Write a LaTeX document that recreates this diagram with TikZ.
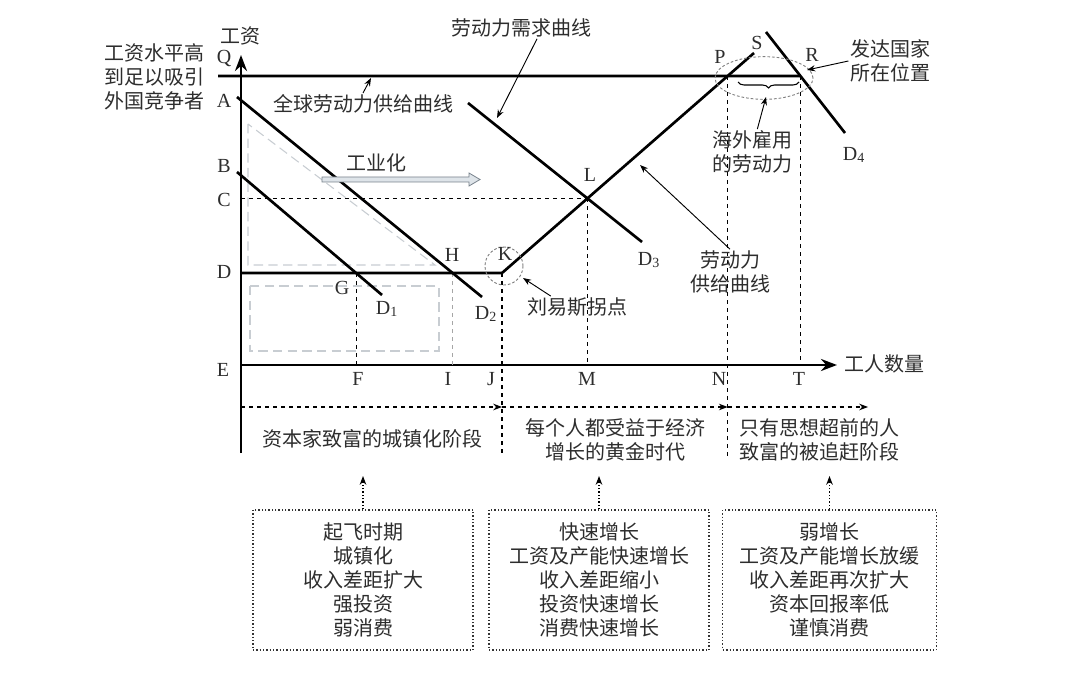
\documentclass[tikz,border=0pt]{standalone}
\usepackage{fontspec}
\setmainfont{Liberation Serif}
\newfontfamily\cjk{Noto Sans CJK SC}
\usetikzlibrary{arrows.meta,decorations.pathreplacing}
\definecolor{txt}{RGB}{45,45,45}
\definecolor{faint}{RGB}{200,205,210}
\definecolor{barfill}{RGB}{222,228,233}
\definecolor{bardraw}{RGB}{120,130,140}

\begin{document}
\begin{tikzpicture}[x=0.75pt,y=-0.75pt,>=Stealth,
    font=\fontsize{15}{18}\selectfont,
    curve/.style={line width=2pt},
    guide/.style={dashed,line width=0.8pt},
    thinarrow/.style={->,line width=0.7pt},
    letter/.style={text=txt,inner sep=1pt},
    zh/.style={text=txt,inner sep=1pt,font=\fontsize{15}{18}\selectfont\cjk,align=center},
    faintline/.style={draw=faint,line width=0.8pt,dash pattern=on 7pt off 4pt},
    ring/.style={draw=gray,line width=0.7pt,dash pattern=on 2pt off 1.5pt},
    stagebox/.style={zh,draw=black!80,line width=0.8pt,dash pattern=on 1pt off 1.5pt,minimum height=105pt}]
				\useasboundingbox (0,0) rectangle (1080,673);
				% axes
				\coordinate (xo) at (241,365);
				\coordinate (ybot) at (241,453);
				\coordinate (ytop) at (241,55);
				\coordinate (xtip) at (837,365);
				\draw[curve,->] (ybot) -- (ytop);
				\draw[curve,->] (xo) -- (xtip);
				\node[zh] (wage) at (240,36) {工资};
				\node[zh,right] (workers) at (843,364) {工人数量};
				% faint areas
				\draw[faintline] (248,124) -- (248,265) -- (435,265) -- cycle;
				\draw[faintline] (250,286) rectangle (439,351);
				% demand and supply lines
				\coordinate (d1a) at (237,172); \coordinate (d1b) at (382,295);
				\coordinate (d2a) at (237,97);  \coordinate (d2b) at (482,297);
				\coordinate (d3a) at (468,103); \coordinate (d3b) at (642,242);
				\coordinate (d4a) at (766,32);  \coordinate (d4b) at (845,133);
				\coordinate (qa) at (218,76);   \coordinate (qz) at (900,76);
				\coordinate (ds) at (241,273);  \coordinate (k) at (502,273);
				\coordinate (se) at (754,53);
				\coordinate (g) at (intersection of d1a--d1b and ds--k);
				\coordinate (h) at (intersection of d2a--d2b and ds--k);
				\coordinate (l) at (intersection of d3a--d3b and k--se);
				\coordinate (p) at (intersection of qa--qz and k--se);
				\coordinate (r) at (intersection of qa--qz and d4a--d4b);
				\coordinate (lowj) at (0,455);
				\coordinate (lown) at (0,458);
				% guide lines
				\draw[guide] (xo |- l) -- (l);
				\draw[guide] (g) -- (g |- xo);
				\draw[guide,gray!70] (h) -- (h |- xo);
				\draw[guide] (k) -- (k |- lowj);
				\draw[guide] (l) -- (l |- xo);
				\draw[guide] (p) -- (p |- lown);
				\draw[guide] (r) -- (r |- xo);
				\draw[curve] (qa) -- (r);
				\draw[curve] (d1a) -- (d1b);
				\draw[curve] (d2a) -- (d2b);
				\draw[curve] (d3a) -- (d3b);
				\draw[curve] (d4a) -- (d4b);
				\draw[curve] (ds) -- (k) -- (se);
				% rings and brace
				\draw[ring] (504,266) circle [radius=14.25pt];
				\draw[ring] (764,78) ellipse [x radius=36.75pt, y radius=16pt];
				\draw[line width=0.8pt,decorate,decoration={brace,amplitude=4.5pt,mirror}] (738,82) -- (799,82);
				\coordinate (bracetip) at (766,97);
				% industrialisation arrow
				\draw[draw=bardraw,fill=barfill,line width=0.6pt] (322,177) -- (469,177) -- (469,173) -- (480,179.5) -- (469,186) -- (469,182) -- (322,182) -- cycle;
				\node[zh] (indus) at (376,163) {工业化};
				% axis letters
				\node[letter] (lq) at (224,59) {Q};
				\node[letter] (la) at (224,101) {A};
				\node[letter] (lb) at (224,166) {B};
				\node[letter] (lc) at (224,200) {C};
				\node[letter] (ld) at (224,272) {D};
				\node[letter] (le) at (223,370) {E};
				\node[letter] (lf) at (358,379) {F};
				\node[letter] (li) at (448,379) {I};
				\node[letter] (lj) at (491,379) {J};
				\node[letter] (lm) at (587,379) {M};
				\node[letter] (ln) at (719,379) {N};
				\node[letter] (lt) at (799,379) {T};
				% point letters
				\node[letter] (lg) at (342,288) {G};
				\node[letter] (lh) at (452,255) {H};
				\node[letter] (lk) at (505,254) {K};
				\node[letter] (ll) at (590,175) {L};
				\node[letter] (lp) at (720,57) {P};
				\node[letter] (ls) at (757,43) {S};
				\node[letter] (lr) at (812,55) {R};
				\node[letter] (ld1) at (387,309) {D\textsubscript{1}};
				\node[letter] (ld2) at (486,314) {D\textsubscript{2}};
				\node[letter] (ld3) at (649,260) {D\textsubscript{3}};
				\node[letter] (ld4) at (854,155) {D\textsubscript{4}};
				% annotations
				\node[zh] (high) at (154,77) {工资水平高\\到足以吸引\\外国竞争者};
				\node[zh] (global) at (363,104) {全球劳动力供给曲线};
				\coordinate (globtip) at (371,78);
				\draw[thinarrow] (global.north) -- (globtip);
				\node[zh] (demand) at (521,28) {劳动力需求曲线};
				\coordinate (demtip) at (497,118);
				\draw[thinarrow] ([xshift=12pt]demand.south) -- (demtip);
				\node[zh] (lewis) at (577,307) {刘易斯拐点};
				\coordinate (lewtip) at (523,278);
				\draw[thinarrow] ([xshift=19pt]lewis.north west) -- (lewtip);
				\node[zh] (supply) at (730,272) {劳动力\\供给曲线};
				\coordinate (suptip) at (640,165);
				\draw[thinarrow] (supply.north) -- (suptip);
				\node[zh] (abroad) at (752,152) {海外雇用\\的劳动力};
				\draw[thinarrow] ([xshift=4pt]abroad.north) -- (bracetip);
				\node[zh] (rich) at (890,61) {发达国家\\所在位置};
				\coordinate (richtip) at (807,70);
				\draw[thinarrow] (rich.west) -- (richtip);
				% stages
				\coordinate (band) at (0,407);
				\draw[guide,->] (xo |- band) -- (k |- band);
				\draw[guide,->] (k |- band) -- (p |- band);
				\draw[guide,->] (p |- band) -- (868,407);
				\node[zh] (stage1) at (372,439) {资本家致富的城镇化阶段};
				\node[zh] (stage2) at (615,440) {每个人都受益于经济\\增长的黄金时代};
				\node[zh] (stage3) at (819,440) {只有思想超前的人\\致富的被追赶阶段};
				\node[stagebox,minimum width=165pt] (box1) at (363,580) {起飞时期\\城镇化\\收入差距扩大\\强投资\\弱消费};
				\node[stagebox,minimum width=165pt] (box2) at (599,580) {快速增长\\工资及产能快速增长\\收入差距缩小\\投资快速增长\\消费快速增长};
				\node[stagebox,minimum width=160pt] (box3) at (829.5,580) {弱增长\\工资及产能增长放缓\\收入差距再次扩大\\资本回报率低\\谨慎消费};
				\coordinate (up) at (0,476);
				\foreach \b in {box1,box2,box3}
					\draw[->,line width=0.8pt,dash pattern=on 1pt off 1.5pt] (\b.north) -- (\b.north |- up);
			\end{tikzpicture}
\end{document}
